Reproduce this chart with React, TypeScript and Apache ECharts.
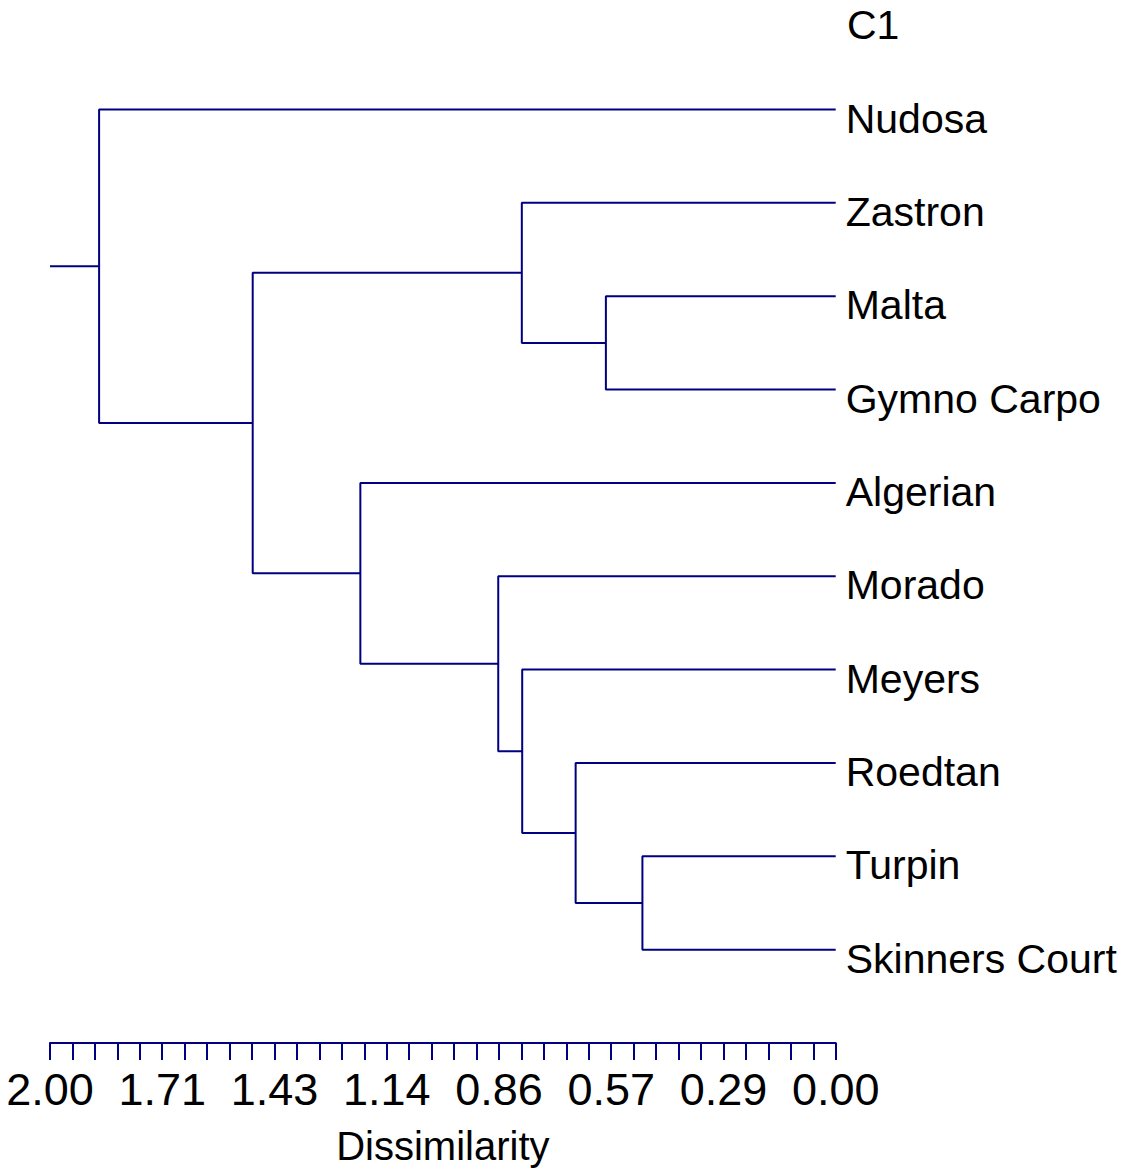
import React, { useEffect, useRef } from "react";
import * as echarts from "echarts";

const leaves: string[] = [
  "Nudosa",
  "Zastron",
  "Malta",
  "Gymno Carpo",
  "Algerian",
  "Morado",
  "Meyers",
  "Roedtan",
  "Turpin",
  "Skinners Court",
];

// [childA, childB, height]; leaves are 0..9, merges are numbered from 10
const merges: [number, number, number][] = [
  [2, 3, 0.585],
  [1, 10, 0.799],
  [8, 9, 0.492],
  [7, 12, 0.662],
  [6, 13, 0.798],
  [5, 14, 0.859],
  [4, 15, 1.21],
  [11, 16, 1.484],
  [0, 17, 1.875],
];

const rootStubEnd = 2.0;
const headerLabel = "C1";
const axisTitle = "Dissimilarity";
const axisMax = 2.0;
const axisInterval = 2 / 7;

const LINE_COLOR = "#000080";
const FONT = "'Liberation Sans', Arial, sans-serif";

export default function App() {
  const ref = useRef<HTMLDivElement>(null);

  useEffect(() => {
    document.body.style.margin = "0";
    if (!ref.current) return;
    const chart = echarts.init(ref.current, undefined, { renderer: "svg" });

    const nx: number[] = leaves.map(() => 0);
    const ny: number[] = leaves.map((_, i) => i);
    merges.forEach(([a, b, h]) => {
      nx.push(h);
      ny.push((ny[a] + ny[b]) / 2);
    });

    const lineSeries: any[] = merges.map(([a, b, h]) => ({
      type: "line",
      data: [
        [nx[a], ny[a]],
        [h, ny[a]],
        [h, ny[b]],
        [nx[b], ny[b]],
      ],
      symbol: "none",
      clip: false,
      lineStyle: { color: LINE_COLOR, width: 2 },
    }));
    const root = nx.length - 1;
    lineSeries.push({
      type: "line",
      data: [
        [nx[root], ny[root]],
        [rootStubEnd, ny[root]],
      ],
      symbol: "none",
      clip: false,
      lineStyle: { color: LINE_COLOR, width: 2 },
    });

    const labelSeries = {
      type: "scatter",
      data: leaves.map((n, i) => ({ value: [0, i], name: n })),
      symbolSize: 0,
      clip: false,
      itemStyle: { color: "rgba(0,0,0,0)", opacity: 1 },
      label: {
        show: true,
        position: "right",
        distance: 10,
        offset: [0, 9],
        formatter: "{b}",
        fontSize: 41,
        color: "#000",
        opacity: 1,
        fontFamily: FONT,
      },
    };

    chart.setOption({
      animation: false,
      backgroundColor: "#fff",
      grid: { left: 50, width: 785.7, top: 109.5, height: 938 },
      xAxis: {
        type: "value",
        inverse: true,
        min: 0,
        max: axisMax,
        interval: axisInterval,
        name: axisTitle,
        nameLocation: "middle",
        nameGap: 83,
        nameTextStyle: { fontSize: 40, color: "#000", fontFamily: FONT },
        axisLine: { show: true, onZero: false, lineStyle: { color: LINE_COLOR, width: 2 } },
        axisTick: { show: true, length: 17, lineStyle: { color: LINE_COLOR, width: 2 } },
        minorTick: { show: true, splitNumber: 5, length: 17, lineStyle: { color: LINE_COLOR, width: 2 } },
        splitLine: { show: false },
        minorSplitLine: { show: false },
        axisLabel: {
          fontSize: 45,
          color: "#000",
          fontFamily: FONT,
          margin: 24,
          formatter: (v: number) => v.toFixed(2),
        },
      },
      yAxis: {
        type: "value",
        inverse: true,
        min: 0,
        max: 10,
        show: false,
      },
      graphic: [
        {
          type: "text",
          x: 847,
          y: 25,
          style: {
            text: headerLabel,
            fontSize: 41,
            fill: "#000",
            fontFamily: FONT,
            textVerticalAlign: "middle",
            verticalAlign: "middle",
          },
        },
      ],
      series: [...lineSeries, labelSeries],
    });

    return () => chart.dispose();
  }, []);

  return <div ref={ref} style={{ width: 1121, height: 1171 }} />;
}
